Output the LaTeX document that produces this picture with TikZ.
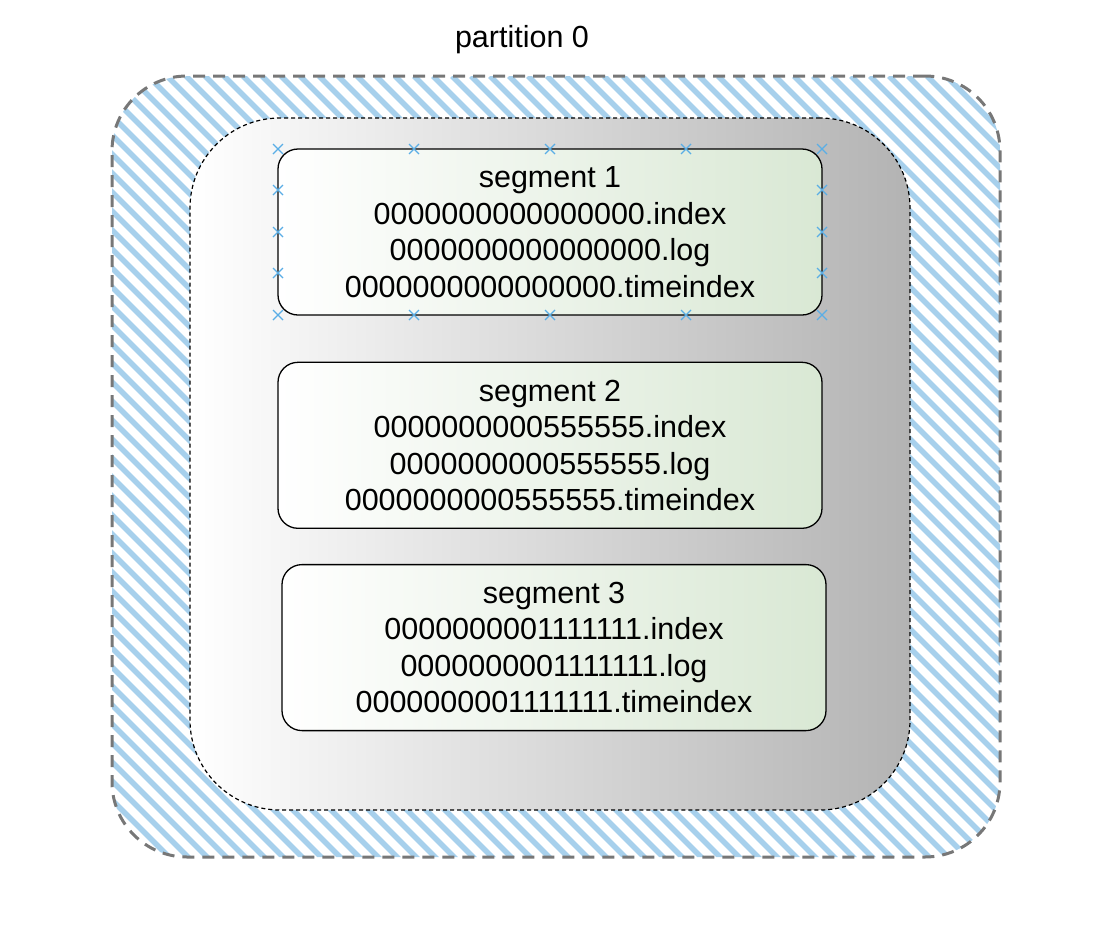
\documentclass[tikz,border=0pt]{standalone}
\usepackage{fontspec}
\setmainfont{Liberation Sans}
\usepackage{tikz}
\usetikzlibrary{positioning}
\definecolor{hatchblue}{HTML}{A7D0EC}
\definecolor{dashgray}{HTML}{777777}
\definecolor{segend}{HTML}{D9E8D4}
\definecolor{innerend}{HTML}{B3B3B3}
\definecolor{markblue}{HTML}{5AAEE6}

\begin{document}
\begin{tikzpicture}[x=1pt, y=-1pt,
    segbox/.style={draw, line width=1.3pt, rounded corners=20pt, left color=white, right color=segend,
        minimum width=544pt, minimum height=166pt, inner sep=0pt, align=center,
        font=\fontsize{30.5}{36.5}\selectfont},
    hatch/.style={hatchblue, solid, line width=5.5pt},
    handle/.style={markblue, solid, line width=1.3pt}]
    \useasboundingbox (0,0) rectangle (1114,932);

    \node[draw=dashgray, line width=3pt, dash pattern=on 12pt off 8pt, rounded corners=75pt,
        minimum width=888pt, minimum height=781pt,
        path picture={\foreach \k in {0,...,100}
            \draw[hatch] ([xshift=\k*19pt-800pt]path picture bounding box.north west) -- ++(1100pt,-1100pt);}] (part) at (556,466.5) {};

    \node[draw, line width=1.2pt, dash pattern=on 4pt off 3pt, rounded corners=90pt,
        left color=white, right color=innerend, minimum width=720pt, minimum height=692pt] (store) at (550,464) {};

    \node[font=\fontsize{30.5}{36.5}\selectfont] (title) at (522,40) {partition 0};

    \node[segbox] (seg1) at (550,232) {segment 1\\0000000000000000.index\\0000000000000000.log\\0000000000000000.timeindex};
    \node[segbox, below=46pt of seg1] (seg2) {segment 2\\0000000000555555.index\\0000000000555555.log\\0000000000555555.timeindex};
    \node[segbox, below=35pt of seg2, xshift=4pt] (seg3) {segment 3\\0000000001111111.index\\0000000001111111.log\\0000000001111111.timeindex};

    % connection handles on segment 1
    \foreach \x in {278,414,550,686,822}
        \foreach \y in {149,315}
            \draw[handle] (\x,\y) ++(-5,-5) -- ++(10,10) ++(0,-10) -- ++(-10,10);
    \foreach \x in {278,822}
        \foreach \y in {190,232,273}
            \draw[handle] (\x,\y) ++(-5,-5) -- ++(10,10) ++(0,-10) -- ++(-10,10);
\end{tikzpicture}
\end{document}
